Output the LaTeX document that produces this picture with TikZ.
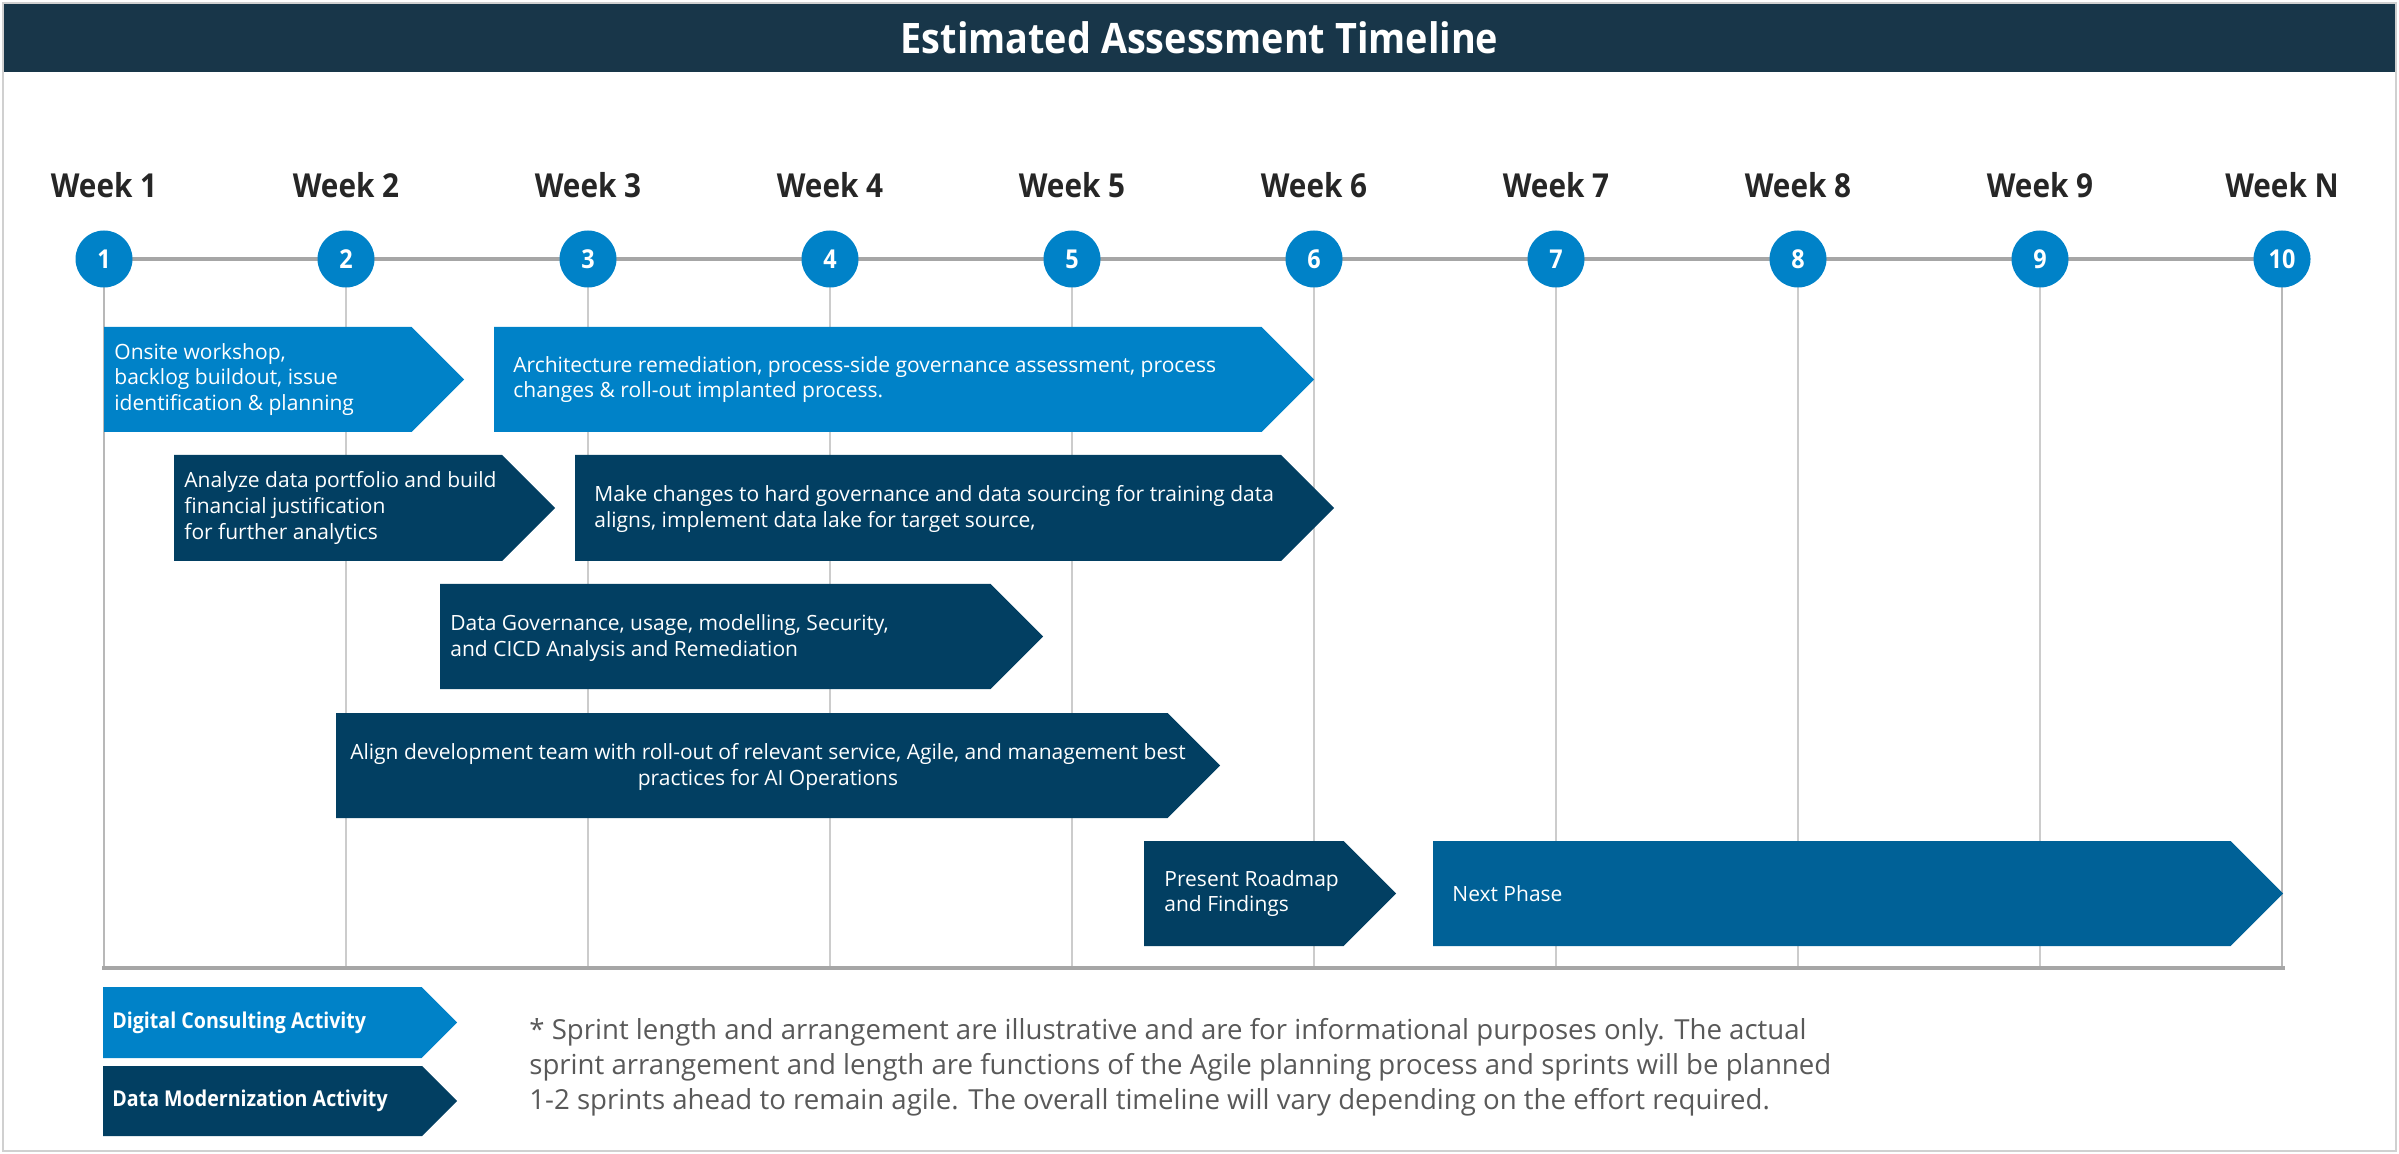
\documentclass[tikz,border=0pt]{standalone}
\usepackage{fontspec}
\setmainfont[BoldFeatures={FakeStretch=0.9}]{Open Sans}
\definecolor{lblue}{HTML}{0082C8}
\definecolor{dblue}{HTML}{023F62}
\definecolor{mblue}{HTML}{006197}
\definecolor{titlebg}{HTML}{183649}
\definecolor{weektxt}{HTML}{262626}
\definecolor{notetxt}{HTML}{595959}
\definecolor{axisgray}{HTML}{A6A6A6}
\definecolor{gridgray}{HTML}{CCCCCC}
\definecolor{framegray}{HTML}{D0D0D0}
\pgfdeclarelayer{lay1}
\pgfsetlayers{lay1,main}
% #1 left x, #2 top y, #3 tip x, #4 bottom y, #5 colour, #6 name
\newcommand\mychev[6]{%
  \fill[#5] (#1,#2) -- ({#3-(#4-#2)/2},#2) -- (#3,{(#2+#4)/2}) -- ({#3-(#4-#2)/2},#4) -- (#1,#4) -- cycle;
  \coordinate (#6) at (#1,{(#2+#4)/2});
}
\tikzset{
  boxtxt/.style={text=white, align=left, inner sep=0pt, anchor=west,
    font=\fontsize{10.5}{12.9}\selectfont},
  legtxt/.style={text=white, inner sep=0pt, anchor=west,
    font=\fontsize{10.9}{13}\selectfont\bfseries},
  weeklbl/.style={text=weektxt, inner sep=0pt,
    font=\fontsize{16.5}{20}\selectfont\bfseries},
  circ/.style={circle, fill=lblue, minimum size=28.5pt, inner sep=0pt, text=white,
    font=\fontsize{13}{15}\selectfont\bfseries},
  axisline/.style={draw=axisgray, line width=2pt},
  gridline/.style={draw=gridgray, line width=0.75pt},
  gridedge/.style={draw=axisgray!80, line width=1.4pt},
  notetxt/.style={text=notetxt, align=left, inner sep=0pt, anchor=west,
    font=\fontsize{13.8}{17.5}\selectfont},
}
\begin{document}
\begin{tikzpicture}[x=0.5pt, y=-0.5pt]
\useasboundingbox (0,0) rectangle (2399,1154);
% frame and title
\draw[framegray, line width=1pt] (3,3) rectangle (2396,1151);
\fill[titlebg] (4,4) rectangle (2395,72);
\node[text=white, inner sep=0pt, font=\fontsize{21}{25}\selectfont\bfseries] (title) at (1199.5,38) {Estimated Assessment Timeline};
% week labels and circles
\foreach \i/\lbl in {1/Week 1,2/Week 2,3/Week 3,4/Week 4,5/Week 5,6/Week 6,7/Week 7,8/Week 8,9/Week 9,10/Week N}{
  \node[weeklbl] (w\i) at ({104+242*(\i-1)},185) {\lbl};
  \node[circ] (c\i) at ({104+242*(\i-1)},259) {\i};
}
\coordinate (axL) at (102,968);
\coordinate (axR) at (2285,968);
\begin{pgfonlayer}{lay1}
  \draw[axisline] (c1.center) -- (c10.center);
  \foreach \i in {2,...,9}{ \draw[gridline] (c\i.center) -- (c\i.center |- axL); }
  \draw[gridedge] (c1.center) -- (c1.center |- axL);
  \draw[gridedge] (c10.center) -- (c10.center |- axL);
  \draw[axisline] (axL) -- (axR);
\end{pgfonlayer}
% activity chevrons
\mychev{104}{327}{464}{432}{lblue}{A}
\node[boxtxt] (tA) at (114,379.5) {Onsite workshop,\\backlog buildout, issue\\identification \& planning};
\mychev{494}{327}{1314}{432}{lblue}{B}
\node[boxtxt] (tB) at (513,379.5) {Architecture remediation, process-side governance assessment, process\\changes \& roll-out implanted process.};
\mychev{174}{455}{555}{561}{dblue}{C}
\node[boxtxt] (tC) at (184,508) {Analyze data portfolio and build\\financial justification\\for further analytics};
\mychev{575}{455}{1334}{561}{dblue}{D}
\node[boxtxt] (tD) at (594,509) {Make changes to hard governance and data sourcing for training data\\aligns, implement data lake for target source,};
\mychev{440}{584}{1043}{689}{dblue}{E}
\node[boxtxt] (tE) at (450,638) {Data Governance, usage, modelling, Security,\\and CICD Analysis and Remediation};
\mychev{336}{713}{1220}{818}{dblue}{F}
\node[boxtxt, align=center, anchor=center] (tF) at (768,767) {Align development team with roll-out of relevant service, Agile, and management best\\practices for AI Operations};
\mychev{1144}{841}{1396}{946}{dblue}{G}
\node[boxtxt] (tG) at (1164,893.5) {Present Roadmap\\and Findings};
\mychev{1433}{841}{2283}{946}{mblue}{H}
\node[boxtxt] (tH) at (1452,893.5) {Next Phase};
% legend
\mychev{103}{987}{457}{1058}{lblue}{L1}
\node[legtxt] (tL1) at (112,1022.5) {Digital Consulting Activity};
\mychev{103}{1066}{457}{1136}{dblue}{L2}
\node[legtxt] (tL2) at (112,1101) {Data Modernization Activity};
% note
\node[notetxt] (note) at (529,1067) {* Sprint length and arrangement are illustrative and are for informational purposes only. The actual\\sprint arrangement and length are functions of the Agile planning process and sprints will be planned\\1-2 sprints ahead to remain agile. The overall timeline will vary depending on the effort required.};
\end{tikzpicture}
\end{document}
